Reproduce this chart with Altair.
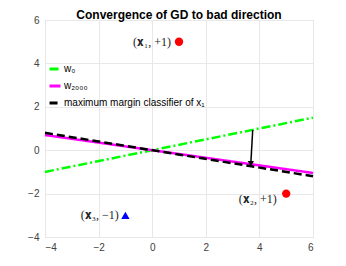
import altair as alt
import pandas as pd

# ---- data ----
line_x = [-4, 6]
w0_y = [-1.0, 1.5]
w2000_y = [0.70, -1.05]
mm_y = [0.80, -1.20]
series = ["w\u2080", "w\u2082\u2080\u2080\u2080", "maximum margin classifier of x\u2081"]
colors = ["#00ff00", "#ff00ff", "#000000"]
dashes = [[9, 3, 2, 3], [1, 0], [8, 4]]

pts_x = [1, 5]
pts_y = [5, -2]
pts_label = ["(\U0001D431\u2081, +1)", "(\U0001D431\u2082, +1)"]
neg_x = [-1]
neg_y = [-3]
neg_label = ["(\U0001D431\u2083, \u22121)"]

label_x = [0.7, 4.65, -1.25]
label_y = [5.0, -2.25, -3.0]
label_text = pts_label + neg_label

arrow_x = [3.75]
arrow_y = [0.93]
arrow_x2 = [3.68]
arrow_y2 = [-0.62]

ticks = [-4, -2, 0, 2, 4, 6]

# ---- tables ----
rows = []
for s, ys in zip(series, [w0_y, w2000_y, mm_y]):
    for x, y in zip(line_x, ys):
        rows.append({"x": x, "y": y, "series": s})
lines_df = pd.DataFrame(rows)
pos_df = pd.DataFrame({"x": pts_x, "y": pts_y})
neg_df = pd.DataFrame({"x": neg_x, "y": neg_y})
lab_df = pd.DataFrame({"x": label_x, "y": label_y, "t": label_text})
arr_df = pd.DataFrame({"x": arrow_x, "y": arrow_y, "x2": arrow_x2, "y2": arrow_y2})

xs = alt.Scale(domain=[-4, 6], nice=False, zero=False)
ys = alt.Scale(domain=[-4, 6], nice=False, zero=False)
xax = alt.Axis(values=ticks, title=None, grid=True, ticks=False, domain=False,
               labelFontSize=10, labelColor="#404040", labelPadding=5)
yax = alt.Axis(values=ticks, title=None, grid=True, ticks=False, domain=False,
               labelFontSize=10, labelColor="#404040", labelPadding=6)

lines = alt.Chart(lines_df).mark_line(strokeWidth=2.5).encode(
    x=alt.X("x:Q", scale=xs, axis=xax),
    y=alt.Y("y:Q", scale=ys, axis=yax),
    color=alt.Color("series:N", scale=alt.Scale(domain=series, range=colors),
                    sort=series,
                    legend=alt.Legend(title=None, orient="none", legendX=3, legendY=42,
                                      symbolType="stroke", symbolStrokeWidth=3,
                                      symbolSize=120, labelFontSize=10,
                                      labelColor="#000000", rowPadding=4,
                                      labelOffset=2)),
    strokeDash=alt.StrokeDash("series:N", scale=alt.Scale(domain=series, range=dashes),
                              legend=None),
    order=alt.Order("x:Q"),
)

arrow = alt.Chart(arr_df).mark_rule(strokeWidth=1.5, color="black").encode(
    x="x:Q", y="y:Q", x2="x2:Q", y2="y2:Q")
head = alt.Chart(arr_df).mark_point(shape="triangle-down", filled=True, color="black",
                                    size=40, opacity=1).encode(
    x="x2:Q", y=alt.Y("y2:Q"), )

pos = alt.Chart(pos_df).mark_point(shape="circle", filled=True, color="#ff0000",
                                   size=70, opacity=1).encode(x="x:Q", y="y:Q")
neg = alt.Chart(neg_df).mark_point(shape="triangle-up", filled=True, color="#0000ff",
                                   size=70, opacity=1).encode(x="x:Q", y="y:Q")
labs = alt.Chart(lab_df).mark_text(align="right", baseline="middle", fontSize=12,
                                   font="Liberation Serif", color="#222222").encode(
    x="x:Q", y="y:Q", text="t:N")

chart = alt.layer(lines, arrow, head, pos, neg, labs).properties(
    width=268, height=217,
    title=alt.TitleParams("Convergence of GD to bad direction", fontSize=12,
                          fontWeight="bold", font="Liberation Sans", offset=4,
                          frame="group", color="#000000", dy=11),
    autosize=alt.AutoSizeParams(type="none"),
    padding={"left": 37, "top": 12, "right": 20, "bottom": 28},
).configure_view(stroke="#bfbfbf", strokeWidth=1).configure_axis(
    gridColor="#e8e8e8", labelFont="Liberation Sans")

chart.save("out.html", embed_options={"renderer": "svg", "actions": False})
